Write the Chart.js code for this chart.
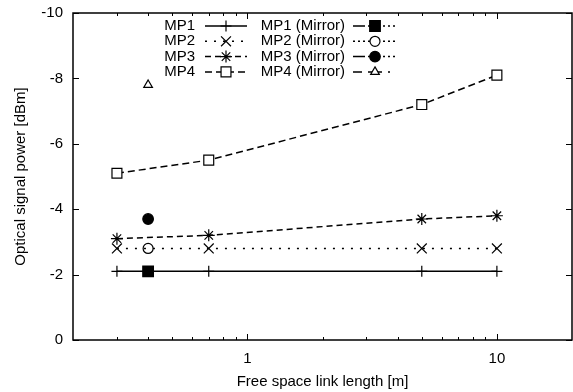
<!DOCTYPE html>
<html><head><meta charset="utf-8">
<script src="https://cdn.jsdelivr.net/npm/chart.js@4/dist/chart.umd.min.js"></script>
<style>html,body{margin:0;padding:0;background:#fff}#wrap{width:573px;height:392px}</style>
</head><body><div id="wrap"><canvas id="c" width="573" height="392"></canvas></div>
<script>
// ---- data ----
const linkLengths = [0.3, 0.7, 5, 10];
const mirrorLengths = [0.4];
const mp1 = [-2.1, -2.1, -2.1, -2.1];
const mp2 = [-2.8, -2.8, -2.8, -2.8];
const mp3 = [-3.1, -3.2, -3.7, -3.8];
const mp4 = [-5.1, -5.5, -7.2, -8.1];
const mp1Mirror = [-2.1];
const mp2Mirror = [-2.8];
const mp3Mirror = [-3.7];
const mp4Mirror = [-7.8];
const seriesNames = ['MP1', 'MP2', 'MP3', 'MP4', 'MP1 (Mirror)', 'MP2 (Mirror)', 'MP3 (Mirror)', 'MP4 (Mirror)'];
const yTickValues = [-10, -8, -6, -4, -2, 0];
const xTickLabels = [1, 10];
const xMinorTicks = [0.3, 0.4, 0.5, 0.6, 0.7, 0.8, 0.9, 2, 3, 4, 5, 6, 7, 8, 9];
const xTitle = 'Free space link length [m]';
const yTitle = 'Optical signal power [dBm]';

const FONT = 'Liberation Sans, Arial, Helvetica, sans-serif';
const FS = 15;

function pts(xs, ys) { return xs.map((x, i) => ({ x: x, y: ys[i] })); }

const dotTail = [3, 2, 3, 2, 3, 2, 3, 2, 3, 2, 3, 2, 3];
const datasets = [
  { label: seriesNames[0], data: pts(linkLengths, mp1), borderDash: [], legendDash: [], pointStyle: 'cross', pointRadius: 5.5, pointBackgroundColor: '#000' },
  { label: seriesNames[1], data: pts(linkLengths, mp2), borderDash: [2, 7], legendDash: [2, 7], pointStyle: 'crossRot', pointRadius: 7, pointBackgroundColor: '#000' },
  { label: seriesNames[2], data: pts(linkLengths, mp3), borderDash: [6, 4], legendDash: [6, 4], pointStyle: 'star', pointRadius: 6, pointBackgroundColor: '#000' },
  { label: seriesNames[3], data: pts(linkLengths, mp4), borderDash: [7, 4], legendDash: [7, 4], pointStyle: 'rect', pointRadius: 7, pointBackgroundColor: '#fff' },
  { label: seriesNames[4], data: pts(mirrorLengths, mp1Mirror), borderDash: [], legendDash: [12].concat(dotTail), pointStyle: 'rect', pointRadius: 7.5, pointBackgroundColor: '#000' },
  { label: seriesNames[5], data: pts(mirrorLengths, mp2Mirror), borderDash: [], legendDash: [2, 3], pointStyle: 'circle', pointRadius: 5, pointBackgroundColor: '#fff' },
  { label: seriesNames[6], data: pts(mirrorLengths, mp3Mirror), borderDash: [], legendDash: [12].concat(dotTail), pointStyle: 'circle', pointRadius: 5.3, pointBackgroundColor: '#000' },
  { label: seriesNames[7], data: pts(mirrorLengths, mp4Mirror), borderDash: [], legendDash: [9, 6, 14, 6, 2, 10], pointStyle: 'triangle', pointRadius: 5, pointBackgroundColor: '#fff' }
].map(d => Object.assign({
  borderColor: '#000', borderWidth: 1.5, pointBorderColor: '#000', pointBorderWidth: 1.2,
  pointHoverRadius: d.pointRadius, fill: false, tension: 0, showLine: true
}, d));

function drawMarker(ctx, ds, x, y) {
  ctx.save();
  ctx.setLineDash([]);
  ctx.strokeStyle = '#000';
  ctx.fillStyle = ds.pointBackgroundColor;
  ctx.lineWidth = ds.pointBorderWidth;
  if (Chart.helpers && Chart.helpers.drawPoint) {
    Chart.helpers.drawPoint(ctx, { pointStyle: ds.pointStyle, radius: ds.pointRadius, rotation: 0, borderWidth: ds.pointBorderWidth }, x, y);
  }
  ctx.restore();
}

const framePlugin = {
  id: 'frame',
  afterDraw(chart) {
    const ctx = chart.ctx, a = chart.chartArea;
    const xs = chart.scales.x, ys = chart.scales.y;
    ctx.save();
    ctx.strokeStyle = '#000';
    ctx.lineWidth = 1.5;
    ctx.setLineDash([]);
    ctx.strokeRect(a.left, a.top, a.right - a.left, a.bottom - a.top);
    ctx.lineWidth = 1;
    ctx.beginPath();
    yTickValues.forEach(v => {
      const py = Math.round(ys.getPixelForValue(v)) + 0.5;
      ctx.moveTo(a.left, py); ctx.lineTo(a.left + 6, py);
      ctx.moveTo(a.right, py); ctx.lineTo(a.right - 6, py);
    });
    xTickLabels.forEach(v => {
      const px = Math.round(xs.getPixelForValue(v)) + 0.5;
      ctx.moveTo(px, a.bottom); ctx.lineTo(px, a.bottom - 6);
      ctx.moveTo(px, a.top); ctx.lineTo(px, a.top + 6);
    });
    xMinorTicks.forEach(v => {
      const px = Math.round(xs.getPixelForValue(v)) + 0.5;
      ctx.moveTo(px, a.bottom); ctx.lineTo(px, a.bottom - 3);
      ctx.moveTo(px, a.top); ctx.lineTo(px, a.top + 3);
    });
    ctx.stroke();

    // gnuplot-style key: two columns, text right-aligned, then line sample with marker
    ctx.font = FS + 'px ' + FONT;
    ctx.fillStyle = '#000';
    ctx.textBaseline = 'middle';
    ctx.textAlign = 'right';
    const cols = [{ textRight: 195, x0: 205, x1: 247 }, { textRight: 345, x0: 353, x1: 397 }];
    const rowY0 = 26, rowStep = 15.3;
    chart.data.datasets.forEach((ds, i) => {
      const c = cols[Math.floor(i / 4)];
      const y = rowY0 + (i % 4) * rowStep;
      ctx.fillText(ds.label, c.textRight, y);
      ctx.save();
      ctx.lineWidth = 1.5;
      ctx.setLineDash(ds.legendDash);
      ctx.beginPath();
      ctx.moveTo(c.x0, y); ctx.lineTo(c.x1, y);
      ctx.stroke();
      ctx.restore();
      drawMarker(ctx, ds, (c.x0 + c.x1) / 2, y);
    });
    ctx.restore();
  }
};

new Chart(document.getElementById('c'), {
  type: 'scatter',
  data: { datasets: datasets },
  options: {
    responsive: false,
    animation: false,
    devicePixelRatio: 1,
    layout: { autoPadding: false, padding: { top: 13, right: 1, left: 0, bottom: 0 } },
    plugins: { legend: { display: false }, tooltip: { enabled: false } },
    scales: {
      x: {
        type: 'logarithmic', min: 0.2, max: 20,
        grid: { display: false, drawTicks: false, tickLength: 0 },
        border: { display: false },
        afterBuildTicks: s => { s.ticks = xTickLabels.map(v => ({ value: v })); },
        afterFit: s => { s.height = 52; s.paddingLeft = 0; s.paddingRight = 0; },
        ticks: { padding: 10, color: '#000', font: { family: FONT, size: FS }, callback: v => String(v), maxRotation: 0, autoSkip: false },
        title: { display: true, text: xTitle, color: '#000', font: { family: FONT, size: FS }, padding: { top: 0, bottom: 1 } }
      },
      y: {
        min: -10, max: 0, reverse: true,
        grid: { display: false, drawTicks: false, tickLength: 0 },
        border: { display: false },
        afterBuildTicks: s => { s.ticks = yTickValues.map(v => ({ value: v })); },
        afterFit: s => { s.width = 73; s.paddingTop = 0; s.paddingBottom = 0; },
        ticks: { padding: 10, color: '#000', font: { family: FONT, size: FS }, callback: v => String(v) },
        title: { display: true, text: yTitle, color: '#000', font: { family: FONT, size: FS }, padding: { top: 12, bottom: 0 } }
      }
    }
  },
  plugins: [framePlugin]
});
</script></body></html>
